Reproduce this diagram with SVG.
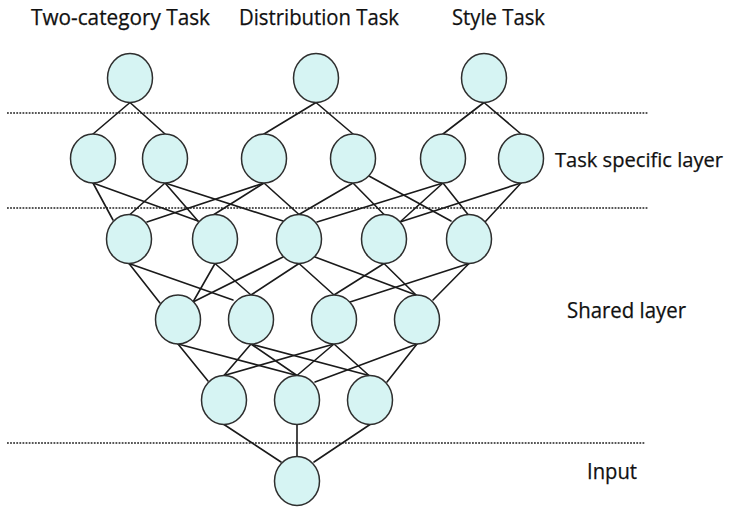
<svg xmlns="http://www.w3.org/2000/svg" width="732" height="507" viewBox="0 0 732 507">
  <defs>
    <style>
      .bg { fill: #ffffff; }
      .node ellipse { fill: #d6f4f3; stroke: #2e2e2e; stroke-width: 1.5; }
      .edges line { stroke: #1a1a1a; stroke-width: 1.6; stroke-linecap: round; }
      .divider { stroke: #1f1f1f; stroke-width: 1.5; stroke-dasharray: 1.8 1.3; fill: none; }
      .label { font-family: "Open Sans", "Liberation Sans", sans-serif; font-size: 21.5px; fill: #111111; stroke: #111111; stroke-width: 0.25; }
      .label.side { font-size: 20px; }
    </style>
  </defs>

  <rect class="bg" x="0" y="0" width="732" height="507"/>

  <!-- layer separators -->
  <g id="dividers">
    <line class="divider" x1="7" y1="113" x2="648" y2="113"/>
    <line class="divider" x1="7" y1="208" x2="648" y2="208"/>
    <line class="divider" x1="7" y1="443" x2="645" y2="443"/>
  </g>

  <!-- labels -->
  <g id="labels">
    <text class="label" x="31" y="25" textLength="179" lengthAdjust="spacingAndGlyphs">Two-category Task</text>
    <text class="label" x="239" y="25" textLength="160" lengthAdjust="spacingAndGlyphs">Distribution Task</text>
    <text class="label" x="452" y="25" textLength="93" lengthAdjust="spacingAndGlyphs">Style Task</text>
    <text class="label side" x="555" y="167" textLength="168" lengthAdjust="spacingAndGlyphs">Task specific layer</text>
    <text class="label" x="567" y="318" textLength="119" lengthAdjust="spacingAndGlyphs">Shared layer</text>
    <text class="label" x="587" y="479" textLength="50" lengthAdjust="spacingAndGlyphs">Input</text>
  </g>

  <!-- connectors -->
  <g id="connectors" class="edges">
    <!-- task outputs to task specific layer -->
    <line x1="130" y1="102.5" x2="93" y2="134"/>
    <line x1="130" y1="102.5" x2="165" y2="134"/>
    <line x1="316" y1="102.5" x2="264" y2="134"/>
    <line x1="316" y1="102.5" x2="353" y2="134"/>
    <line x1="484" y1="102.5" x2="443" y2="134"/>
    <line x1="484" y1="102.5" x2="521" y2="134"/>

    <!-- task specific layer to shared layer 1 -->
    <line x1="93" y1="183" x2="113" y2="220"/>
    <line x1="93" y1="183" x2="198" y2="221"/>
    <line x1="165" y1="183" x2="130" y2="214.5"/>
    <line x1="165" y1="183" x2="198" y2="221"/>
    <line x1="165" y1="183" x2="283" y2="221"/>
    <line x1="264" y1="183" x2="147" y2="222"/>
    <line x1="264" y1="183" x2="214" y2="214.5"/>
    <line x1="264" y1="183" x2="299" y2="214.5"/>
    <line x1="353" y1="183" x2="299" y2="214.5"/>
    <line x1="353" y1="183" x2="384" y2="214.5"/>
    <line x1="369" y1="176" x2="451" y2="221"/>
    <line x1="443" y1="183" x2="317" y2="222"/>
    <line x1="443" y1="183" x2="400" y2="222"/>
    <line x1="443" y1="183" x2="468" y2="214.5"/>
    <line x1="521" y1="183" x2="400" y2="222"/>
    <line x1="521" y1="183" x2="485" y2="222"/>

    <!-- shared layer 1 to shared layer 2 -->
    <line x1="129" y1="263.5" x2="160" y2="303"/>
    <line x1="129" y1="263.5" x2="233" y2="300"/>
    <line x1="215" y1="263.5" x2="193" y2="302"/>
    <line x1="215" y1="263.5" x2="251" y2="295"/>
    <line x1="283" y1="257" x2="193" y2="302"/>
    <line x1="299" y1="263.5" x2="251" y2="295"/>
    <line x1="299" y1="263.5" x2="334" y2="295"/>
    <line x1="315" y1="257" x2="416" y2="295"/>
    <line x1="384" y1="263.5" x2="334" y2="295"/>
    <line x1="384" y1="263.5" x2="416" y2="295"/>
    <line x1="469" y1="263.5" x2="350" y2="302"/>
    <line x1="469" y1="263.5" x2="433" y2="300"/>

    <!-- shared layer 2 to shared layer 3 -->
    <line x1="178" y1="344" x2="208" y2="381"/>
    <line x1="178" y1="344" x2="297" y2="375.5"/>
    <line x1="251" y1="344" x2="224" y2="375.5"/>
    <line x1="251" y1="344" x2="297" y2="375.5"/>
    <line x1="251" y1="344" x2="369" y2="375.5"/>
    <line x1="334" y1="344" x2="224" y2="375.5"/>
    <line x1="334" y1="344" x2="297" y2="375.5"/>
    <line x1="334" y1="344" x2="369" y2="375.5"/>
    <line x1="417" y1="344" x2="315" y2="382"/>
    <line x1="417" y1="344" x2="387" y2="382"/>

    <!-- shared layer 3 to input -->
    <line x1="224" y1="424.5" x2="281" y2="462"/>
    <line x1="297" y1="424.5" x2="297" y2="456.5"/>
    <line x1="370" y1="424.5" x2="314" y2="462"/>
  </g>

  <!-- task output nodes -->
  <g id="out-two-category" class="node"><ellipse cx="130" cy="78" rx="22.5" ry="24.5"/></g>
  <g id="out-distribution" class="node"><ellipse cx="316" cy="78" rx="22.5" ry="24.5"/></g>
  <g id="out-style" class="node"><ellipse cx="484" cy="78" rx="22.5" ry="24.5"/></g>

  <!-- task specific layer -->
  <g id="task-1" class="node"><ellipse cx="93" cy="158.5" rx="22.5" ry="24.5"/></g>
  <g id="task-2" class="node"><ellipse cx="165" cy="158.5" rx="22.5" ry="24.5"/></g>
  <g id="task-3" class="node"><ellipse cx="264" cy="158.5" rx="22.5" ry="24.5"/></g>
  <g id="task-4" class="node"><ellipse cx="353" cy="158.5" rx="22.5" ry="24.5"/></g>
  <g id="task-5" class="node"><ellipse cx="443" cy="158.5" rx="22.5" ry="24.5"/></g>
  <g id="task-6" class="node"><ellipse cx="521" cy="158.5" rx="22.5" ry="24.5"/></g>

  <!-- shared layer 1 -->
  <g id="shared-a1" class="node"><ellipse cx="129" cy="239" rx="22.5" ry="24.5"/></g>
  <g id="shared-a2" class="node"><ellipse cx="215" cy="239" rx="22.5" ry="24.5"/></g>
  <g id="shared-a3" class="node"><ellipse cx="299" cy="239" rx="22.5" ry="24.5"/></g>
  <g id="shared-a4" class="node"><ellipse cx="384" cy="239" rx="22.5" ry="24.5"/></g>
  <g id="shared-a5" class="node"><ellipse cx="469" cy="239" rx="22.5" ry="24.5"/></g>

  <!-- shared layer 2 -->
  <g id="shared-b1" class="node"><ellipse cx="178" cy="319.5" rx="22.5" ry="24.5"/></g>
  <g id="shared-b2" class="node"><ellipse cx="251" cy="319.5" rx="22.5" ry="24.5"/></g>
  <g id="shared-b3" class="node"><ellipse cx="334" cy="319.5" rx="22.5" ry="24.5"/></g>
  <g id="shared-b4" class="node"><ellipse cx="417" cy="319.5" rx="22.5" ry="24.5"/></g>

  <!-- shared layer 3 -->
  <g id="shared-c1" class="node"><ellipse cx="224" cy="400" rx="22.5" ry="24.5"/></g>
  <g id="shared-c2" class="node"><ellipse cx="297" cy="400" rx="22.5" ry="24.5"/></g>
  <g id="shared-c3" class="node"><ellipse cx="370" cy="400" rx="22.5" ry="24.5"/></g>

  <!-- input -->
  <g id="input" class="node"><ellipse cx="297" cy="481" rx="22.5" ry="24.5"/></g>
</svg>
